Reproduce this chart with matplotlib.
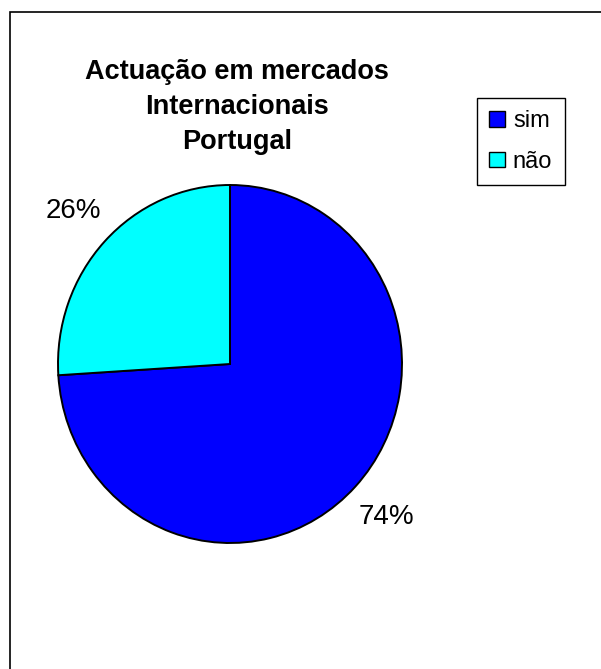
import matplotlib
matplotlib.use('Agg')
import matplotlib.pyplot as plt
from matplotlib.patches import Patch, Rectangle

plt.rcParams['font.family'] = ['Liberation Sans', 'DejaVu Sans']

# data
labels = ['sim', 'não']
shares = [74, 26]
colors = ['#0000FF', '#00FFFF']
title = 'Actuação em mercados\nInternacionais\nPortugal'

W, H = 601, 669
fig = plt.figure(figsize=(W / 100, H / 100), dpi=100)

# chart frame (only top and left edges visible in the crop)
fig.patches.append(Rectangle((9.5 / W, -0.1), 1.2, 1 - 12 / H + 0.1,
                             transform=fig.transFigure, fill=False,
                             edgecolor='black', linewidth=1.2))

# pie axes placed in pixel box
left, right, top, bottom = 58, 402, 185, 543
ax = fig.add_axes([left / W, 1 - bottom / H, (right - left) / W, (bottom - top) / H])
wedges, texts, autotexts = ax.pie(shares, colors=colors, startangle=90, counterclock=False,
                                  autopct='%1.0f%%', pctdistance=1.25,
                                  wedgeprops=dict(edgecolor='black', linewidth=1.4),
                                  textprops=dict(fontsize=20))
ax.set_aspect('auto')
ax.set_xlim(-1, 1)
ax.set_ylim(-1, 1)
ax.axis('off')

fig.text(237 / W, 1 - 59 / H, title, ha='center', va='top', fontsize=19.5,
         fontweight='bold', linespacing=1.45)

handles = [Patch(facecolor=c, edgecolor='black', linewidth=1.0) for c in colors]
fig.legend(handles, labels, loc='upper left', bbox_to_anchor=(477 / W, 1 - 98 / H),
           fontsize=17, frameon=True, fancybox=False, edgecolor='black',
           framealpha=1, handlelength=0.65, handleheight=0.65, handletextpad=0.35,
           labelspacing=0.78, borderpad=0.52, borderaxespad=0)

plt.savefig('out.png', dpi=100)
